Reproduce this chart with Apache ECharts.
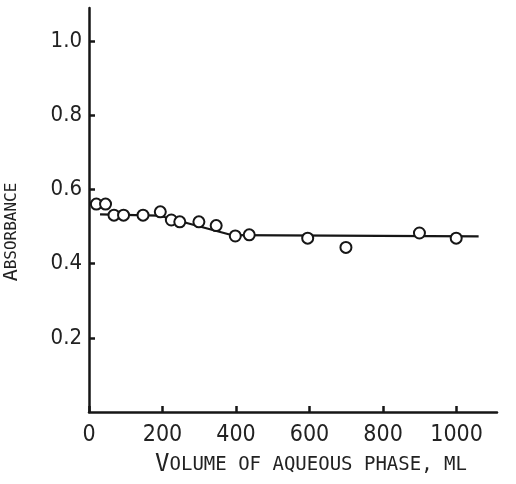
<!DOCTYPE html>
<html>
<head>
<meta charset="utf-8">
<script src="https://cdn.jsdelivr.net/npm/echarts@6/dist/echarts.min.js"></script>
<style>
  html, body { margin: 0; padding: 0; background: #fff; }
  #chart { width: 516px; height: 484px; }
</style>
</head>
<body>
<div id="chart"></div>
<script>
// measured points: volume of aqueous phase (ml) vs absorbance
const volume = [20, 45, 68, 94, 147, 194, 224, 247, 299, 346, 398, 436, 595, 699, 899, 999]
const absorbance = [0.561, 0.561, 0.531, 0.531, 0.531, 0.540, 0.518, 0.513, 0.513, 0.503, 0.475, 0.478, 0.469, 0.444, 0.483, 0.469]

// hand drawn trend line
const lineX = [30, 190, 390, 1060]
const lineY = [0.533, 0.530, 0.477, 0.474]

const xTicks = [0, 200, 400, 600, 800, 1000]
const yTicks = [0.2, 0.4, 0.6, 0.8, 1.0]

const ink = '#161616'
const labelFont = "'Liberation Sans Narrow', 'DejaVu Sans Condensed', sans-serif"
const monoFont = "'DejaVu Sans Mono', 'Liberation Mono', monospace"

var chartDom = document.getElementById('chart')
var myChart = echarts.init(chartDom)

var option = {
  animation: false,
  backgroundColor: '#fff',
  grid: {
    left: 89,
    right: 19,
    top: 8,
    bottom: 72,
    containLabel: false,
    outerBoundsMode: 'none'
  },
  xAxis: {
    type: 'value',
    min: 0,
    max: 1110,
    interval: 200,
    splitLine: { show: false },
    axisLine: { lineStyle: { color: ink, width: 2.5 } },
    axisTick: {
      inside: true,
      length: 6,
      customValues: xTicks,
      lineStyle: { color: ink, width: 2.5 }
    },
    axisLabel: {
      customValues: xTicks,
      margin: 12,
      color: '#222',
      fontFamily: labelFont,
      fontSize: 23,
      formatter: function (value) {
        return String(value)
      }
    }
  },
  yAxis: {
    type: 'value',
    min: 0,
    max: 1.09,
    interval: 0.2,
    splitLine: { show: false },
    axisLine: { lineStyle: { color: ink, width: 2.5 } },
    axisTick: {
      inside: true,
      length: 6,
      customValues: yTicks,
      lineStyle: { color: ink, width: 2.5 }
    },
    axisLabel: {
      customValues: yTicks,
      margin: 7,
      color: '#222',
      fontFamily: labelFont,
      fontSize: 22,
      formatter: function (value) {
        return value.toFixed(1)
      }
    }
  },
  graphic: [
    {
      type: 'text',
      x: 12,
      y: 232,
      rotation: Math.PI / 2,
      style: {
        text: '{a|A}{b|BSORBANCE}',
        align: 'center',
        verticalAlign: 'middle',
        fill: '#222',
        rich: {
          a: { fontFamily: monoFont, fontSize: 20, fill: '#222' },
          b: { fontFamily: monoFont, fontSize: 16, fill: '#222' }
        }
      }
    },
    {
      type: 'text',
      x: 311,
      y: 465,
      style: {
        text: '{a|V}{b|OLUME OF AQUEOUS PHASE, ML}',
        align: 'center',
        verticalAlign: 'middle',
        fill: '#222',
        rich: {
          a: { fontFamily: monoFont, fontSize: 24, fill: '#222' },
          b: { fontFamily: monoFont, fontSize: 19, fill: '#222' }
        }
      }
    }
  ],
  series: [
    {
      type: 'line',
      data: lineX.map((x, i) => [x, lineY[i]]),
      showSymbol: false,
      symbol: 'none',
      lineStyle: { color: ink, width: 2.2 },
      z: 2
    },
    {
      type: 'scatter',
      data: volume.map((v, i) => [v, absorbance[i]]),
      symbol: 'emptyCircle',
      symbolSize: 11,
      itemStyle: { color: ink, borderColor: ink, borderWidth: 2, opacity: 1 },
      z: 3
    }
  ]
}

option && myChart.setOption(option)
</script>
</body>
</html>
